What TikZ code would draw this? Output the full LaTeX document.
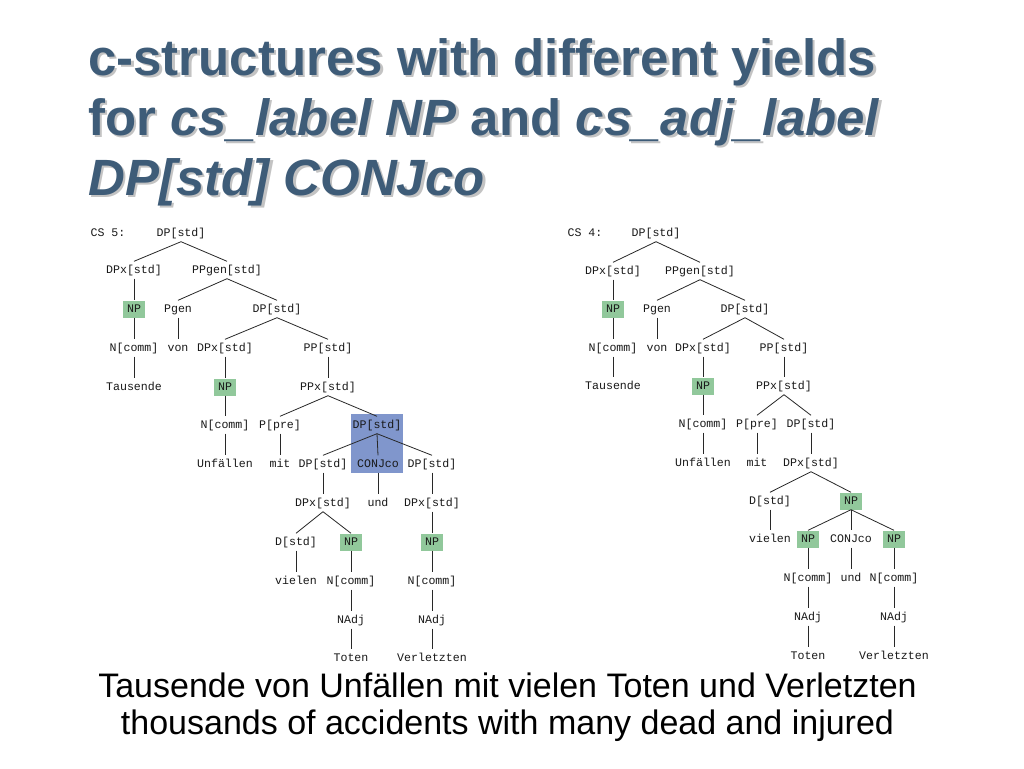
\documentclass[tikz,border=0pt]{standalone}
\usepackage{fontspec}
\setmainfont{Liberation Sans}
\newfontfamily\treefont{Liberation Mono}
\definecolor{titleblue}{RGB}{62,92,120}
\definecolor{npgreen}{RGB}{145,200,155}
\definecolor{hiblue}{RGB}{128,150,204}
\definecolor{edgegray}{RGB}{40,40,40}
\definecolor{shadowgray}{RGB}{195,195,195}
\newcommand{\shadowed}[1]{\rlap{\hspace{2.5pt}\raisebox{-2.5pt}{\color{shadowgray}#1}}#1}
\begin{document}
\begin{tikzpicture}[x=1pt,y=-1pt,
  lbl/.style={font=\treefont\fontsize{11.6}{12}\selectfont, text height=7pt, text depth=1pt, inner xsep=1pt, inner ysep=4.5pt, text=black!90},
  np/.style={lbl, fill=npgreen, inner xsep=4pt},
  edge/.style={draw=edgegray, line width=0.8pt},
  ttl/.style={font=\fontsize{51}{61}\selectfont\bfseries, anchor=base west, inner sep=0pt, text=titleblue},
  captxt/.style={font=\fontsize{34}{37}\selectfont, anchor=base, inner sep=0pt, text=black}]
\useasboundingbox[fill=white] (0,0) rectangle (1024,768);

% title
\node[ttl] (t1) at (88,75) {\shadowed{c-structures with different yields}};
\node[ttl] (t2) at (88,135) {\shadowed{for \textit{cs\_label NP} and \textit{cs\_adj\_label}}};
\node[ttl] (t3) at (88,195) {\shadowed{\textit{DP[std] CONJco}}};

% caption
\node[captxt] (c1) at (507.5,697) {Tausende von Unfällen mit vielen Toten und Verletzten};
\node[captxt] (c2) at (507.5,734) {thousands of accidents with many dead and injured};

% highlight box (left tree)
\fill[hiblue] (351,414) rectangle (403,473);

% ===== left tree (CS 5) =====
\node[lbl] (Lcs) at (108,233) {CS 5:};
\node[lbl] (L0) at (181,233) {DP[std]};
\node[lbl] (L1a) at (134,270) {DPx[std]};
\node[lbl] (L1b) at (227,270) {PPgen[std]};
\node[np] (L2a) at (134,309) {NP};
\node[lbl] (L2b) at (178,309) {Pgen};
\node[lbl] (L2c) at (277,309) {DP[std]};
\node[lbl] (L3a) at (134,348) {N[comm]};
\node[lbl] (L3b) at (178,348) {von};
\node[lbl] (L3c) at (225,348) {DPx[std]};
\node[lbl] (L3d) at (328,348) {PP[std]};
\node[lbl] (L4a) at (134,387) {Tausende};
\node[np] (L4b) at (225,387) {NP};
\node[lbl] (L4c) at (328,387) {PPx[std]};
\node[lbl] (L5a) at (225,425) {N[comm]};
\node[lbl] (L5b) at (280,425) {P[pre]};
\node[lbl] (L5c) at (377,425) {DP[std]};
\node[lbl] (L6a) at (225,464) {Unfällen};
\node[lbl] (L6b) at (280,464) {mit};
\node[lbl] (L6c) at (323,464) {DP[std]};
\node[lbl] (L6d) at (378,464) {CONJco};
\node[lbl] (L6e) at (432,464) {DP[std]};
\node[lbl] (L7a) at (323,503) {DPx[std]};
\node[lbl] (L7b) at (378,503) {und};
\node[lbl] (L7c) at (432,503) {DPx[std]};
\node[lbl] (L8a) at (296,542) {D[std]};
\node[np] (L8b) at (351,542) {NP};
\node[np] (L8c) at (432,542) {NP};
\node[lbl] (L9a) at (296,581) {vielen};
\node[lbl] (L9b) at (351,581) {N[comm]};
\node[lbl] (L9c) at (432,581) {N[comm]};
\node[lbl] (L10a) at (351,620) {NAdj};
\node[lbl] (L10b) at (432,620) {NAdj};
\node[lbl] (L11a) at (351,658) {Toten};
\node[lbl] (L11b) at (432,658) {Verletzten};

\foreach \a/\b in {L0/L1a,L0/L1b,L1a/L2a,L1b/L2b,L1b/L2c,L2a/L3a,L2b/L3b,L2c/L3c,L2c/L3d,
  L3a/L4a,L3c/L4b,L3d/L4c,L4b/L5a,L4c/L5b,L4c/L5c,L5a/L6a,L5b/L6b,L5c/L6c,L5c/L6d,L5c/L6e,
  L6c/L7a,L6d/L7b,L6e/L7c,L7a/L8a,L7a/L8b,L7c/L8c,L8a/L9a,L8b/L9b,L8c/L9c,L9b/L10a,L9c/L10b,
  L10a/L11a,L10b/L11b}
  \draw[edge] (\a.south) -- (\b.north);

% ===== right tree (CS 4) =====
\node[lbl] (Rcs) at (585,233) {CS 4:};
\node[lbl] (R0) at (656,233) {DP[std]};
\node[lbl] (R1a) at (613,271) {DPx[std]};
\node[lbl] (R1b) at (700,271) {PPgen[std]};
\node[np] (R2a) at (613,309) {NP};
\node[lbl] (R2b) at (657,309) {Pgen};
\node[lbl] (R2c) at (745,309) {DP[std]};
\node[lbl] (R3a) at (613,348) {N[comm]};
\node[lbl] (R3b) at (657,348) {von};
\node[lbl] (R3c) at (703,348) {DPx[std]};
\node[lbl] (R3d) at (784,348) {PP[std]};
\node[lbl] (R4a) at (613,386) {Tausende};
\node[np] (R4b) at (703,386) {NP};
\node[lbl] (R4c) at (784,386) {PPx[std]};
\node[lbl] (R5a) at (703,424) {N[comm]};
\node[lbl] (R5b) at (757,424) {P[pre]};
\node[lbl] (R5c) at (811,424) {DP[std]};
\node[lbl] (R6a) at (703,463) {Unfällen};
\node[lbl] (R6b) at (757,463) {mit};
\node[lbl] (R6c) at (811,463) {DPx[std]};
\node[lbl] (R7a) at (770,501) {D[std]};
\node[np] (R7b) at (851,501) {NP};
\node[lbl] (R8a) at (770,539) {vielen};
\node[np] (R8b) at (808,539) {NP};
\node[lbl] (R8c) at (851,539) {CONJco};
\node[np] (R8d) at (894,539) {NP};
\node[lbl] (R9a) at (808,578) {N[comm]};
\node[lbl] (R9b) at (851,578) {und};
\node[lbl] (R9c) at (894,578) {N[comm]};
\node[lbl] (R10a) at (808,617) {NAdj};
\node[lbl] (R10b) at (894,617) {NAdj};
\node[lbl] (R11a) at (808,656) {Toten};
\node[lbl] (R11b) at (894,656) {Verletzten};

\foreach \a/\b in {R0/R1a,R0/R1b,R1a/R2a,R1b/R2b,R1b/R2c,R2a/R3a,R2b/R3b,R2c/R3c,R2c/R3d,
  R3a/R4a,R3c/R4b,R3d/R4c,R4b/R5a,R4c/R5b,R4c/R5c,R5a/R6a,R5b/R6b,R5c/R6c,
  R6c/R7a,R6c/R7b,R7a/R8a,R7b/R8b,R7b/R8c,R7b/R8d,R8b/R9a,R8c/R9b,R8d/R9c,
  R9a/R10a,R9c/R10b,R10a/R11a,R10b/R11b}
  \draw[edge] (\a.south) -- (\b.north);
\end{tikzpicture}
\end{document}
